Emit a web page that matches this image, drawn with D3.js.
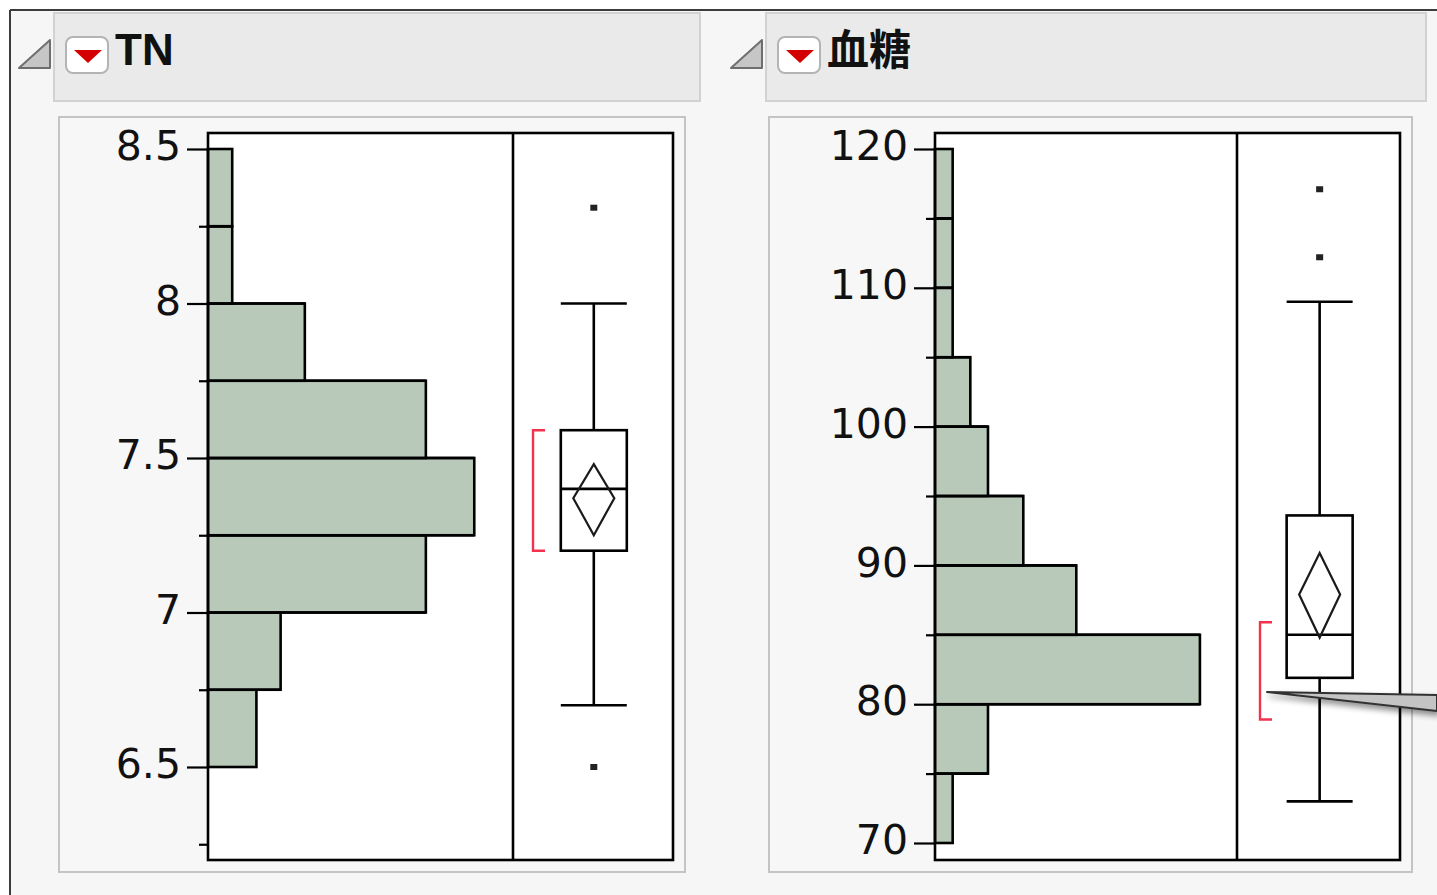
<html>
<head>
<meta charset="utf-8">
<script src="https://cdn.jsdelivr.net/npm/d3@7"></script>
<style>
  body { margin: 0; background: #ffffff; }
  svg text { font-family: "DejaVu Sans", Verdana, sans-serif; }
</style>
</head>
<body>
<svg id="chart" width="1437" height="895"></svg>
<script>
// ---- data ----
// TN
var tnTitle = "TN";
var tnBinEdges = [6.5, 6.75, 7.0, 7.25, 7.5, 7.75, 8.0, 8.25, 8.5];
var tnCounts = [2, 3, 9, 11, 9, 4, 1, 1];
var tnMajorTicks = [6.5, 7, 7.5, 8, 8.5];
var tnMinorTicks = [6.25, 6.75, 7.25, 7.75, 8.25];
var tnBox = { q1: 7.2, median: 7.4, q3: 7.59, lo: 6.7, hi: 8.0 };
var tnOutliers = [8.31, 6.5];
var tnMean = { mean: 7.37, lower: 7.25, upper: 7.48 };
var tnShortest = [7.2, 7.59];

// 血糖
var bsTitle = "血糖";
var bsBinEdges = [70, 75, 80, 85, 90, 95, 100, 105, 110, 115, 120];
var bsCounts = [1, 3, 15, 8, 5, 3, 2, 1, 1, 1];
var bsMajorTicks = [70, 80, 90, 100, 110, 120];
var bsMinorTicks = [75, 85, 95, 105, 115];
var bsBox = { q1: 81.9, median: 85, q3: 93.6, lo: 73, hi: 109 };
var bsOutliers = [117.1, 112.2];
var bsMean = { mean: 87.9, lower: 84.8, upper: 90.9 };
var bsShortest = [78.9, 85.9];

var svg = d3.select("#chart");

// drop shadow for the callout
var defs = svg.append("defs");
var f = defs.append("filter").attr("id", "shadow").attr("x", "-20%").attr("y", "-50%").attr("width", "140%").attr("height", "300%");
f.append("feGaussianBlur").attr("in", "SourceAlpha").attr("stdDeviation", 3);
f.append("feOffset").attr("dx", 2).attr("dy", 4).attr("result", "b");
f.append("feComponentTransfer").append("feFuncA").attr("type", "linear").attr("slope", 0.45);
var fm = f.append("feMerge");
fm.append("feMergeNode");
fm.append("feMergeNode").attr("in", "SourceGraphic");

var soft = defs.append("filter").attr("id", "soft");
soft.append("feGaussianBlur").attr("stdDeviation", 0.6);

// page background and outer border
svg.append("rect").attr("x", 10).attr("y", 10).attr("width", 1440).attr("height", 900).attr("fill", "#f6f6f6");
svg.append("line").attr("x1", 10).attr("x2", 1437).attr("y1", 10).attr("y2", 10).attr("stroke", "#3c3c3c").attr("stroke-width", 2);
svg.append("line").attr("x1", 10).attr("x2", 10).attr("y1", 10).attr("y2", 895).attr("stroke", "#3c3c3c").attr("stroke-width", 2);

var LW = 2.6;

function drawPanel(o) {
  // header
  svg.append("rect").attr("x", o.hx).attr("y", 13).attr("width", o.hw).attr("height", 88)
    .attr("fill", "#eaeaea").attr("stroke", "#d2d2d2").attr("stroke-width", 2);
  // disclosure triangle
  var tx = o.hx - 35;
  svg.append("path").attr("d", "M" + tx + ",68 L" + (tx + 31) + ",68 L" + (tx + 31) + ",40 Z")
    .attr("fill", "#c6c6c6").attr("stroke", "#6e6e6e").attr("stroke-width", 2).attr("stroke-linejoin", "round");
  // red popup button
  var bx = o.hx + 12;
  svg.append("rect").attr("x", bx).attr("y", 37).attr("width", 42).attr("height", 36).attr("rx", 7)
    .attr("fill", "#ffffff").attr("stroke", "#b4b4b4").attr("stroke-width", 2);
  svg.append("path").attr("d", "M" + (bx + 8) + ",50 L" + (bx + 36) + ",50 L" + (bx + 22) + ",63 Z")
    .attr("fill", "#d40000");
  // title
  svg.append("text").attr("x", bx + 49).attr("y", 65).text(o.title)
    .style("font-family", o.titleFont).style("font-weight", "bold").style("font-size", o.titleSize + "px")
    .attr("fill", "#111");

  // plot frame
  svg.append("rect").attr("x", o.fx).attr("y", 117).attr("width", o.fw).attr("height", 755)
    .attr("fill", "#f7f7f7").attr("stroke", "#c4c4c4").attr("stroke-width", 2);

  var top = 133, bottom = 860;
  var y = d3.scaleLinear().domain(o.yDomain).range(o.yRange);
  var xh = d3.scaleLinear().domain([0, o.countMax]).range([o.px, o.split]);
  var xb = d3.scaleLinear().domain([0, 1]).range([o.split, o.pr]);

  svg.append("rect").attr("x", o.px).attr("y", top).attr("width", o.pr - o.px).attr("height", bottom - top)
    .attr("fill", "#ffffff");

  // histogram
  var bins = o.counts.map(function (c, i) { return { lo: o.edges[i], hi: o.edges[i + 1], n: c }; });
  svg.append("g").selectAll("rect").data(bins).enter().append("rect")
    .attr("x", xh(0))
    .attr("y", function (d) { return y(d.hi); })
    .attr("width", function (d) { return xh(d.n) - xh(0); })
    .attr("height", function (d) { return y(d.lo) - y(d.hi); })
    .attr("fill", "#b9c9b9").attr("stroke", "#000").attr("stroke-width", LW);

  // axis
  var ax = svg.append("g").attr("transform", "translate(" + o.px + ",0)");
  ax.call(d3.axisLeft(y).tickValues(o.major).tickSize(21).tickPadding(6).tickFormat(d3.format("~g")));
  ax.select(".domain").remove();
  ax.selectAll(".tick line").attr("stroke", "#000").attr("stroke-width", 2.2);
  ax.selectAll(".tick text").attr("fill", "#111").style("font-size", o.tickSize + "px")
    .attr("dy", "0.26em");
  var axm = svg.append("g").attr("transform", "translate(" + o.px + ",0)");
  axm.call(d3.axisLeft(y).tickValues(o.minor).tickSize(9).tickFormat(""));
  axm.select(".domain").remove();
  axm.selectAll(".tick line").attr("stroke", "#000").attr("stroke-width", 2.2);
  // tick marks continuing through the histogram column
  svg.append("g").selectAll("line").data(o.major.concat(o.minor)
      .filter(function (v) { return v > o.edges[0] && v < o.edges[o.edges.length - 1]; })
      .filter(function (v) { return o.edges.indexOf(v) >= 0; }))
    .enter().append("line")
    .attr("x1", o.px).attr("x2", function (v) {
      var i = o.edges.indexOf(v);
      return Math.max(xh(o.counts[i - 1] || 0), xh(o.counts[i] || 0));
    })
    .attr("y1", function (v) { return y(v); }).attr("y2", function (v) { return y(v); })
    .attr("stroke", "#000").attr("stroke-width", LW);

  // box plot
  var cx = xb(o.boxPos), hw = 33;
  var g = svg.append("g").attr("stroke", "#000").attr("stroke-width", LW).attr("fill", "none");
  g.append("line").attr("x1", cx).attr("x2", cx).attr("y1", y(o.box.hi)).attr("y2", y(o.box.q3));
  g.append("line").attr("x1", cx).attr("x2", cx).attr("y1", y(o.box.q1)).attr("y2", y(o.box.lo));
  g.append("line").attr("x1", cx - hw).attr("x2", cx + hw).attr("y1", y(o.box.hi)).attr("y2", y(o.box.hi));
  g.append("line").attr("x1", cx - hw).attr("x2", cx + hw).attr("y1", y(o.box.lo)).attr("y2", y(o.box.lo));
  g.append("rect").attr("x", cx - hw).attr("width", 2 * hw)
    .attr("y", y(o.box.q3)).attr("height", y(o.box.q1) - y(o.box.q3)).attr("fill", "#fff");
  g.append("line").attr("x1", cx - hw).attr("x2", cx + hw).attr("y1", y(o.box.median)).attr("y2", y(o.box.median));
  // mean diamond
  var dw = 20.5;
  g.append("path").attr("d",
    "M" + cx + "," + y(o.mean.upper) + " L" + (cx + dw) + "," + y(o.mean.mean) +
    " L" + cx + "," + y(o.mean.lower) + " L" + (cx - dw) + "," + y(o.mean.mean) + " Z")
    .attr("stroke", "#1a1a1a").attr("stroke-width", 2.2);
  // outliers
  svg.append("g").selectAll("rect").data(o.outliers).enter().append("rect")
    .attr("x", cx - 3.5).attr("y", function (d) { return y(d) - 3; }).attr("width", 7).attr("height", 6)
    .attr("fill", "#222").attr("filter", "url(#soft)");
  // shortest half bracket
  var sx = o.split + o.bracketOff;
  svg.append("path").attr("d",
    "M" + (sx + 12) + "," + y(o.shortest[1]) + " L" + sx + "," + y(o.shortest[1]) +
    " L" + sx + "," + y(o.shortest[0]) + " L" + (sx + 12) + "," + y(o.shortest[0]))
    .attr("fill", "none").attr("stroke", "#f2334d").attr("stroke-width", 2.4);

  // plot border and divider
  svg.append("rect").attr("x", o.px).attr("y", top).attr("width", o.pr - o.px).attr("height", bottom - top)
    .attr("fill", "none").attr("stroke", "#000").attr("stroke-width", LW);
  svg.append("line").attr("x1", o.split).attr("x2", o.split).attr("y1", top).attr("y2", bottom)
    .attr("stroke", "#000").attr("stroke-width", LW);
}

drawPanel({
  title: tnTitle, titleFont: "'Liberation Sans', Arial, sans-serif", titleSize: 44,
  hx: 54, hw: 646, fx: 59, fw: 626,
  px: 208, split: 513, pr: 673,
  yDomain: [6.5, 8.5], yRange: [767, 149], countMax: 12.6,
  edges: tnBinEdges, counts: tnCounts, major: tnMajorTicks, minor: tnMinorTicks,
  box: tnBox, outliers: tnOutliers, mean: tnMean, shortest: tnShortest,
  bracketOff: 20, tickSize: 41, boxPos: 0.505
});

drawPanel({
  title: bsTitle, titleFont: "'Noto Sans CJK JP', sans-serif", titleSize: 42,
  hx: 766, hw: 660, fx: 769, fw: 643,
  px: 935, split: 1237, pr: 1400,
  yDomain: [70, 120], yRange: [843, 149], countMax: 17.1,
  edges: bsBinEdges, counts: bsCounts, major: bsMajorTicks, minor: bsMinorTicks,
  box: bsBox, outliers: bsOutliers, mean: bsMean, shortest: bsShortest,
  bracketOff: 23, tickSize: 41, boxPos: 0.507
});

// callout pointer coming in from the right edge
svg.append("path").attr("d", "M1267,692 L1437,695 L1437,711 Z")
  .attr("fill", "#c4c4c4").attr("stroke", "#333").attr("stroke-width", 2)
  .attr("stroke-linejoin", "round").attr("filter", "url(#shadow)");
</script>
</body>
</html>
